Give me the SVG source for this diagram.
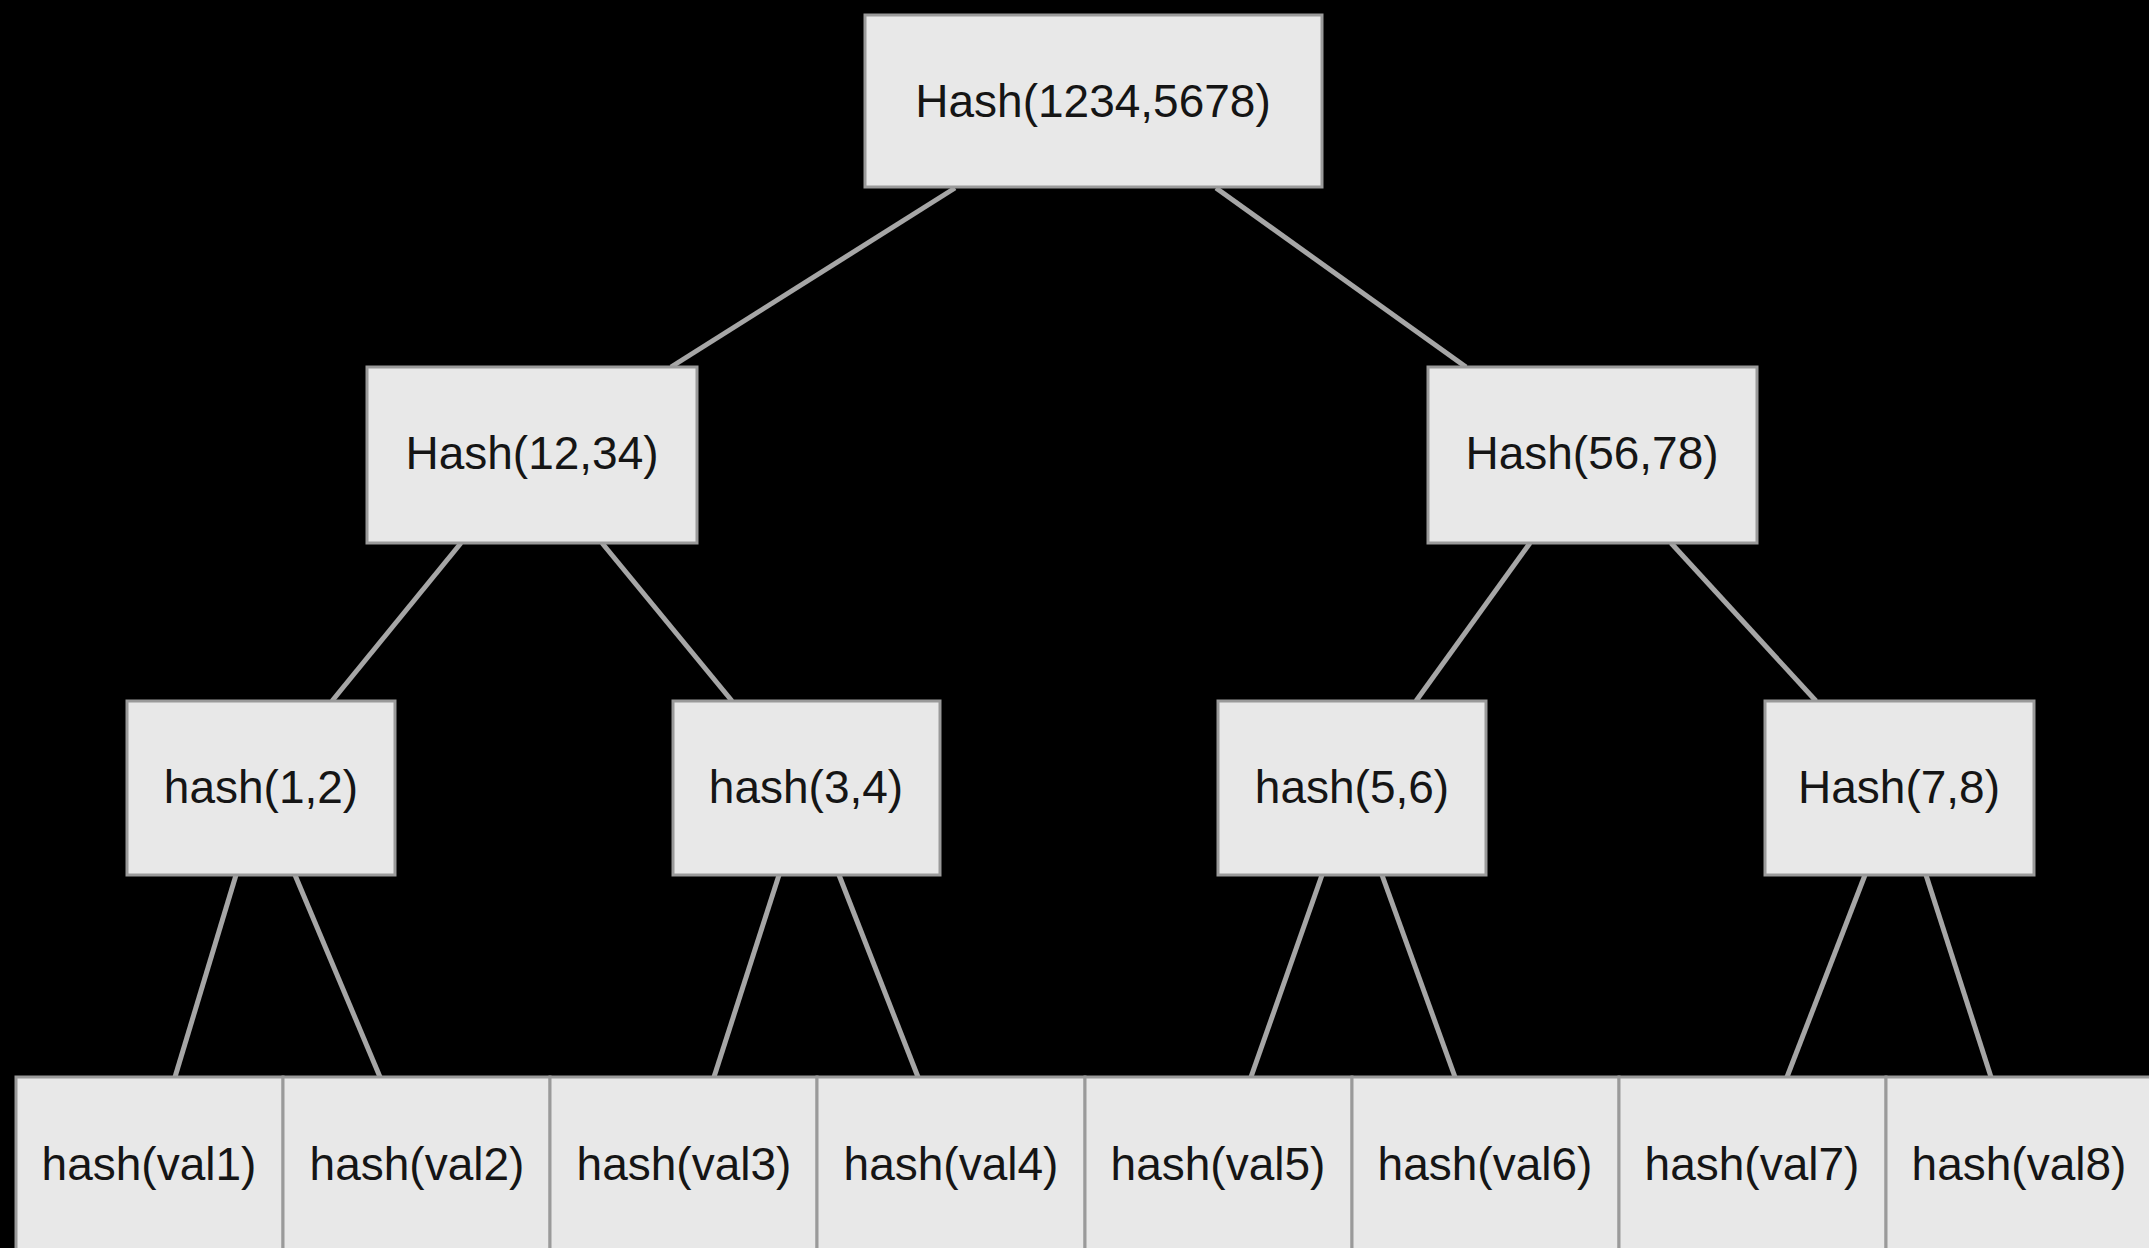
<svg xmlns="http://www.w3.org/2000/svg" width="2149" height="1248" viewBox="0 0 2149 1248">
<style>
.box{fill:#e8e8e8;stroke:#9a9a9a;stroke-width:3}
.lbl{font-family:"Liberation Sans",Arial,Helvetica,sans-serif;font-size:46px;fill:#151515;text-anchor:middle}
.edge{stroke:#a6a6a6;stroke-width:5;fill:none;stroke-linecap:butt}
</style>
<rect x="0" y="0" width="2149" height="1248" fill="#000"/>
<g id="connectors">
<line class="edge" x1="955" y1="188" x2="671" y2="367"/>
<line class="edge" x1="1216" y1="188" x2="1466" y2="367"/>
<line class="edge" x1="461" y1="543" x2="332" y2="701"/>
<line class="edge" x1="602" y1="543" x2="732" y2="701"/>
<line class="edge" x1="1530" y1="543" x2="1416" y2="701"/>
<line class="edge" x1="1671" y1="543" x2="1816" y2="701"/>
<line class="edge" x1="236" y1="875" x2="175" y2="1077"/>
<line class="edge" x1="295" y1="875" x2="380" y2="1077"/>
<line class="edge" x1="779" y1="875" x2="714" y2="1077"/>
<line class="edge" x1="839" y1="875" x2="918" y2="1077"/>
<line class="edge" x1="1322" y1="875" x2="1251" y2="1077"/>
<line class="edge" x1="1382" y1="875" x2="1455" y2="1077"/>
<line class="edge" x1="1865" y1="875" x2="1787" y2="1077"/>
<line class="edge" x1="1926" y1="875" x2="1991" y2="1077"/>
</g>
<g id="root"><rect class="box" x="865" y="15" width="457" height="172"/><text class="lbl" x="1093" y="117">Hash(1234,5678)</text></g>
<g id="h1234"><rect class="box" x="367" y="367" width="330" height="176"/><text class="lbl" x="532" y="469">Hash(12,34)</text></g>
<g id="h5678"><rect class="box" x="1428" y="367" width="329" height="176"/><text class="lbl" x="1592" y="469">Hash(56,78)</text></g>
<g id="h12"><rect class="box" x="127" y="701" width="268" height="174"/><text class="lbl" x="261" y="803">hash(1,2)</text></g>
<g id="h34"><rect class="box" x="673" y="701" width="267" height="174"/><text class="lbl" x="806" y="803">hash(3,4)</text></g>
<g id="h56"><rect class="box" x="1218" y="701" width="268" height="174"/><text class="lbl" x="1352" y="803">hash(5,6)</text></g>
<g id="h78"><rect class="box" x="1765" y="701" width="269" height="174"/><text class="lbl" x="1899" y="803">Hash(7,8)</text></g>
<g id="v1"><rect class="box" x="16" y="1077" width="267" height="260"/><text class="lbl" x="149" y="1180">hash(val1)</text></g>
<g id="v2"><rect class="box" x="283" y="1077" width="267" height="260"/><text class="lbl" x="417" y="1180">hash(val2)</text></g>
<g id="v3"><rect class="box" x="550" y="1077" width="267" height="260"/><text class="lbl" x="684" y="1180">hash(val3)</text></g>
<g id="v4"><rect class="box" x="817" y="1077" width="268" height="260"/><text class="lbl" x="951" y="1180">hash(val4)</text></g>
<g id="v5"><rect class="box" x="1085" y="1077" width="267" height="260"/><text class="lbl" x="1218" y="1180">hash(val5)</text></g>
<g id="v6"><rect class="box" x="1352" y="1077" width="267" height="260"/><text class="lbl" x="1485" y="1180">hash(val6)</text></g>
<g id="v7"><rect class="box" x="1619" y="1077" width="267" height="260"/><text class="lbl" x="1752" y="1180">hash(val7)</text></g>
<g id="v8"><rect class="box" x="1886" y="1077" width="267" height="260"/><text class="lbl" x="2019" y="1180">hash(val8)</text></g>
</svg>
